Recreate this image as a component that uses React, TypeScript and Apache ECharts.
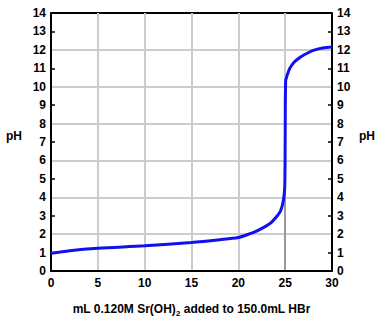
import React, { useEffect, useRef } from "react";
import * as echarts from "echarts";

const volumeML = [0, 2, 5, 10, 15, 18, 20, 21, 22, 23, 23.5, 24, 24.5, 24.8, 24.95, 25, 25.05, 25.2, 25.5, 26, 26.6, 27, 28, 29, 30];
const phValues = [0.96, 1.1, 1.23, 1.37, 1.55, 1.7, 1.82, 1.98, 2.18, 2.45, 2.62, 2.9, 3.25, 3.8, 4.5, 7, 10.3, 10.6, 11.0, 11.35, 11.6, 11.72, 11.97, 12.1, 12.15];
const oddTicks = [1, 3, 5, 7, 9, 11, 13];
const evenGrid = [2, 4, 6, 8, 10, 12];
const xGrid = [5, 10, 15, 20, 25];
const equivalence = { x: 25, yTop: 4.3 };
const xTitle = "{a|mL 0.120M Sr(OH)}{s|2}{a| added to 150.0mL HBr}";
const yTitle = "pH";

export default function App() {
  const ref = useRef<HTMLDivElement>(null);
  useEffect(() => {
    const chart = echarts.init(ref.current!, null, { renderer: "svg" });
    const labelFont = { fontFamily: "Liberation Sans", fontWeight: "bold" as const, fontSize: 12, color: "#000" };
    const yBase = (position: "left" | "right") => ({
      type: "value" as const,
      position,
      min: 0,
      max: 14,
      interval: 1,
      name: yTitle,
      nameLocation: "middle" as const,
      nameRotate: 0,
      nameGap: position === "left" ? 29 : 27,
      nameTextStyle: { ...labelFont, verticalAlign: "bottom" as const },
      axisLine: { show: true, lineStyle: { color: "#000", width: 2 } },
      axisTick: { show: true, inside: true, length: 4, customValues: oddTicks, lineStyle: { color: "#000", width: 1.5 } },
      axisLabel: { ...labelFont, margin: 5, padding: [8, 0, 0, 0] },
      splitLine: { show: false },
      z: 3,
    });
    const gridLine = { color: "#cccccc", width: 2, type: "solid" as const };
    chart.setOption({
      animation: false,
      backgroundColor: "#fff",
      grid: { left: 51, right: 50, top: 13, bottom: 55 },
      xAxis: [
        {
          type: "value",
          min: 0,
          max: 30,
          interval: 5,
          name: xTitle,
          nameLocation: "middle",
          nameGap: 30,
          nameTextStyle: {
            rich: {
              a: { ...labelFont },
              s: { ...labelFont, fontSize: 8, padding: [8, 0, 0, 0] },
            },
          },
          axisLine: { show: true, lineStyle: { color: "#000", width: 2 } },
          axisTick: { show: false },
          axisLabel: { ...labelFont, margin: 6 },
          splitLine: { show: false },
          z: 3,
        },
      ],
      yAxis: [yBase("left"), yBase("right")],
      series: [
        {
          type: "line",
          yAxisIndex: 0,
          data: volumeML.map((v, i) => [v, phValues[i]]),
          showSymbol: false,
          smooth: 0.3,
          lineStyle: { color: "#1010f0", width: 3 },
          markLine: {
            silent: true,
            symbol: "none",
            label: { show: false },
            data: [
              ...evenGrid.map((y) => [
                { coord: [0, y], lineStyle: gridLine },
                { coord: [30, y] },
              ]),
              [
                { coord: [0, 14], lineStyle: { color: "#000", width: 2, type: "solid" } },
                { coord: [30, 14] },
              ],
              ...xGrid.map((x) => ({ xAxis: x, lineStyle: gridLine })),
              [
                { coord: [equivalence.x, 0], lineStyle: { color: "#999999", width: 2, type: "solid" } },
                { coord: [equivalence.x, equivalence.yTop] },
              ],
            ],
            z: 1,
          },
          z: 5,
        },
      ],
    });
    return () => chart.dispose();
  }, []);
  return <div ref={ref} style={{ position: "absolute", left: 0, top: 0, width: 382, height: 326 }} />;
}
